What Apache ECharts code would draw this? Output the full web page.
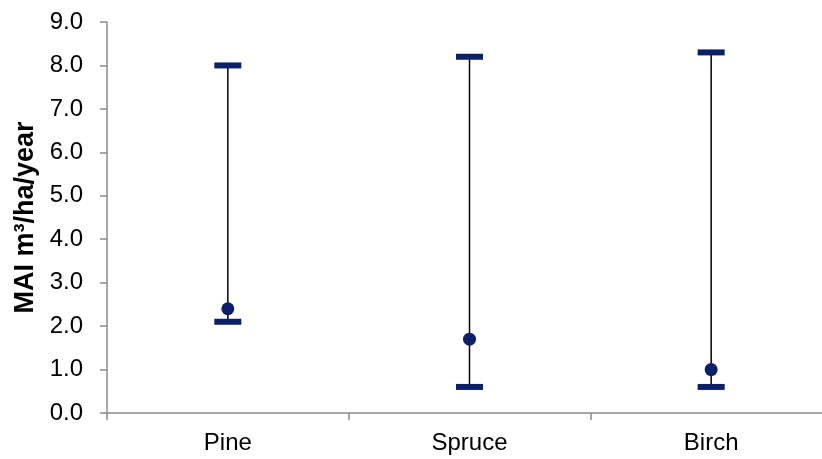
<!DOCTYPE html>
<html>
<head>
<meta charset="utf-8">
<script src="https://cdn.jsdelivr.net/npm/echarts@6/dist/echarts.min.js"></script>
<style>
html,body{margin:0;padding:0;background:#fff;overflow:hidden;width:822px;height:459px;}
#chart{width:832px;height:459px;}
</style>
</head>
<body>
<div id="chart"></div>
<script>
var categories = ['Pine', 'Spruce', 'Birch'];
var highValues = [8.0, 8.2, 8.3];
var lowValues = [2.1, 0.6, 0.6];
var meanValues = [2.4, 1.7, 1.0];
var yTickMin = 0, yTickMax = 9, yTickStep = 1;

var navy = '#0b1f6b';
var fontFam = 'Liberation Sans, Arial, sans-serif';
var chart = echarts.init(document.getElementById('chart'), null, {renderer: 'canvas'});

var rangeData = categories.map(function (c, i) { return [i, lowValues[i], highValues[i]]; });
var meanData = categories.map(function (c, i) { return [i, meanValues[i]]; });

chart.setOption({
  animation: false,
  backgroundColor: '#fff',
  grid: {left: 107, right: 0, top: 22, bottom: 46, containLabel: false},
  xAxis: {
    type: 'category',
    data: categories,
    boundaryGap: true,
    axisLine: {lineStyle: {color: '#8c8c8c', width: 1.5}},
    axisTick: {show: true, length: 7, lineStyle: {color: '#8c8c8c', width: 1.5}},
    axisLabel: {color: '#000', fontFamily: fontFam, fontSize: 24, margin: 18}
  },
  yAxis: {
    type: 'value',
    min: yTickMin, max: yTickMax, interval: yTickStep,
    name: 'MAI m³/ha/year',
    nameLocation: 'middle',
    nameGap: 68,
    nameRotate: 90,
    nameTextStyle: {color: '#000', fontFamily: fontFam, fontSize: 27, fontWeight: 'bold'},
    axisLine: {show: true, lineStyle: {color: '#8c8c8c', width: 1.5}},
    axisTick: {show: true, length: 7, lineStyle: {color: '#8c8c8c', width: 1.5}},
    splitLine: {show: false},
    axisLabel: {color: '#000', fontFamily: fontFam, fontSize: 24, margin: 24,
      formatter: function (v) { return v.toFixed(1); }}
  },
  series: [
    {
      type: 'custom',
      data: rangeData,
      renderItem: function (params, api) {
        var x = api.value(0);
        var lo = api.coord([x, api.value(1)]);
        var hi = api.coord([x, api.value(2)]);
        var cw = 27, ch = 6;
        return {
          type: 'group',
          children: [
            {type: 'line', shape: {x1: lo[0], y1: lo[1], x2: hi[0], y2: hi[1]},
              style: {stroke: '#000', lineWidth: 1.5}},
            {type: 'rect', shape: {x: hi[0] - cw / 2, y: hi[1] - ch / 2, width: cw, height: ch},
              style: {fill: navy}},
            {type: 'rect', shape: {x: lo[0] - cw / 2, y: lo[1] - ch / 2, width: cw, height: ch},
              style: {fill: navy}}
          ]
        };
      },
      z: 2
    },
    {
      type: 'scatter',
      data: meanData,
      symbol: 'circle',
      symbolSize: 13,
      itemStyle: {color: navy, opacity: 1},
      z: 3
    }
  ]
});
</script>
</body>
</html>
